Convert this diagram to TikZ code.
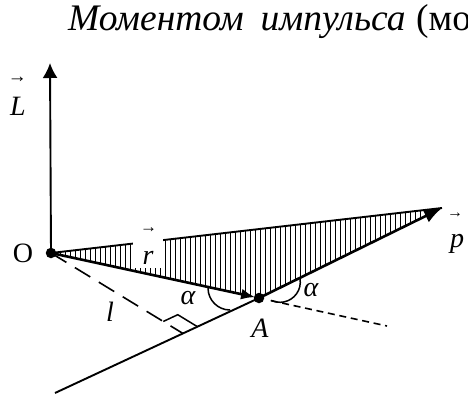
\documentclass[tikz,border=0pt]{standalone}
\usepackage{fontspec}
\usepackage{graphicx}
\setmainfont{Liberation Serif}
\usetikzlibrary{arrows.meta,calc}
\newcommand{\vecarrow}[1]{\resizebox{#1}{!}{→}}
\begin{document}
\begin{tikzpicture}[x=1pt,y=-1pt,
  lbl/.style={font=\fontsize{28}{30}\selectfont\itshape, inner sep=0pt},
  varr/.style={font=\fontsize{20}{22}\selectfont, inner sep=0pt},
  ttl/.style={anchor=base west, inner sep=0pt, font=\fontsize{37.5}{41}\selectfont},
  thickvec/.style={line width=2.6pt},
  thinline/.style={line width=1.9pt},
  hatchline/.style={line width=1pt},
  dashO/.style={line width=1.6pt, dash pattern=on 18pt off 10pt},
  dashA/.style={line width=1.6pt, dash pattern=on 7pt off 4.7pt},
  anglearc/.style={line width=1.5pt},
  dotpt/.style={circle, fill=black, inner sep=0pt, minimum size=10.5pt},
]
\useasboundingbox (0,0) rectangle (468,396);
\clip (0,0) rectangle (468,396);

\coordinate (O) at (51,253);
\coordinate (Ltip) at (50,63);
\coordinate (A) at (259,298);
\coordinate (P) at (442,208);
\coordinate (B) at (55,393);
\coordinate (D) at (387,326);
\coordinate (F) at ($(B)!0.627!(A)$);
\coordinate (M1) at ($(F)!23pt!(O)$);
\coordinate (M2) at ($(F)!16pt!(A)$);
\coordinate (M3) at ($(M1)+(M2)-(F)$);
\coordinate (DA) at ($(A)!12pt!(D)$);

% title (cut off at the right edge, as in the reference)
\node[ttl] (title) at (68,30.5)
  {\itshape Моментом\hspace{0.45em}импульса\upshape\hspace{0.28em}(мо};

% hatching
\begin{scope}
  \clip (O) -- (A) -- (P) -- cycle;
  \foreach \x in {55,60,...,440} \draw[hatchline] (\x,150) -- (\x,320);
\end{scope}
\draw[thinline] (O) -- (P);
\fill[white] (133,220) rectangle (163,268);

% axis L
\draw[thinline, -{Latex[length=15pt,width=15pt]}] (O) -- (Ltip);

% line of p
\draw[thinline] (B) -- (A);
\draw[thickvec, -{Latex[length=18pt,width=14pt]}] (A) -- (P);

% dashed lines
\draw[dashO] (O) -- (F);
\draw[dashA] (DA) -- (D);

% right angle marker
\draw[line width=1.5pt] (M1) -- (M3) -- (M2);

% r vector
\draw[thickvec, -{Latex[length=14pt,width=11pt]}, shorten >=4pt] (O) -- (A);

% angle arcs
\draw[anglearc] (208,288) arc[start angle=180, end angle=90, radius=22];
\draw[anglearc] ($(280,282)+(-10:20.3)$) arc[start angle=-10, end angle=115, radius=20.3];

% dots
\node[dotpt] (Odot) at (O) {};
\node[dotpt] (Adot) at (A) {};

% labels
\node[inner sep=0pt, font=\fontsize{28}{30}\selectfont] (Olab) at (23,253) {O};
\node[varr] (Larr) at (17.5,80) {\vecarrow{19pt}};
\node[lbl] (Llab) at (18,106) {L};
\node[varr] (rarr) at (148.5,230) {\vecarrow{17pt}};
\node[lbl] (rlab) at (148,258) {r};
\node[varr] (parr) at (455,215) {\vecarrow{16pt}};
\node[lbl] (plab) at (457,244) {p};
\node[lbl] (al1) at (188,298) {α};
\node[lbl] (al2) at (311,290) {α};
\node[lbl] (Alab) at (260,328) {A};
\node[lbl] (llab) at (110,312) {l};
\end{tikzpicture}
\end{document}
